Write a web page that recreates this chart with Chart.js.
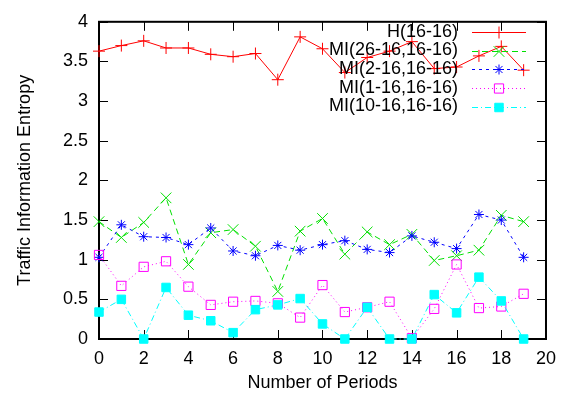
<!DOCTYPE html>
<html>
<head>
<meta charset="utf-8">
<script src="https://cdn.jsdelivr.net/npm/chart.js@4.4.0/dist/chart.umd.min.js"></script>
<style>
    html, body { margin: 0; padding: 0; background: #fff; }
</style>
</head>
<body>
<canvas id="entropyChart" width="565" height="398"></canvas>
<script>
// Data
const periods = [0, 1, 2, 3, 4, 5, 6, 7, 8, 9, 10, 11, 12, 13, 14, 15, 16, 17, 18, 19];
const hSelf   = [3.63, 3.70, 3.76, 3.67, 3.67, 3.59, 3.56, 3.60, 3.27, 3.81, 3.66, 3.36, 3.55, 3.63, 3.75, 3.41, 3.43, 3.57, 3.69, 3.39];
const mi26    = [1.48, 1.28, 1.47, 1.78, 0.94, 1.34, 1.38, 1.17, 0.60, 1.36, 1.52, 1.07, 1.35, 1.19, 1.32, 0.99, 1.05, 1.12, 1.56, 1.48];
const mi2     = [1.03, 1.44, 1.29, 1.28, 1.19, 1.40, 1.11, 1.05, 1.18, 1.12, 1.19, 1.24, 1.13, 1.09, 1.30, 1.22, 1.14, 1.57, 1.50, 1.03];
const mi1     = [1.06, 0.67, 0.91, 0.98, 0.66, 0.43, 0.47, 0.48, 0.45, 0.27, 0.68, 0.34, 0.40, 0.47, 0.01, 0.38, 0.94, 0.39, 0.41, 0.57];
const mi10    = [0.34, 0.50, 0.00, 0.65, 0.30, 0.23, 0.08, 0.37, 0.43, 0.51, 0.19, 0.00, 0.40, 0.00, 0.00, 0.56, 0.33, 0.78, 0.48, 0.00];

const seriesLabels = ['H(16-16)', 'MI(26-16,16-16)', 'MI(2-16,16-16)', 'MI(1-16,16-16)', 'MI(10-16,16-16)'];

const FONT = '"Liberation Sans", Arial, sans-serif';

function pts(values) {
    return periods.map((p, i) => ({ x: p, y: values[i] }));
}

const datasets = [
    { label: seriesLabels[0], data: pts(hSelf), borderColor: '#ff0000', borderDash: [],
      pointStyle: 'cross', pointRadius: 6, pointBorderColor: '#ff0000', pointBackgroundColor: 'transparent', order: 5 },
    { label: seriesLabels[1], data: pts(mi26), borderColor: '#00e000', borderDash: [6, 4],
      pointStyle: 'crossRot', pointRadius: 7.5, pointBorderColor: '#00e000', pointBackgroundColor: 'transparent', order: 4 },
    { label: seriesLabels[2], data: pts(mi2), borderColor: '#0000ff', borderDash: [3, 4],
      pointStyle: 'star', pointRadius: 5, pointBorderColor: '#0000ff', pointBackgroundColor: 'transparent', order: 3 },
    { label: seriesLabels[3], data: pts(mi1), borderColor: '#ff00ff', borderDash: [1, 3],
      pointStyle: 'rect', pointRadius: 6.5, pointBorderColor: '#ff00ff', pointBackgroundColor: 'transparent', order: 2 },
    { label: seriesLabels[4], data: pts(mi10), borderColor: '#00ffff', borderDash: [6, 3, 1, 3],
      pointStyle: 'rect', pointRadius: 6, pointBorderColor: '#00ffff', pointBackgroundColor: '#00ffff', order: 1 }
];
datasets.forEach(d => {
    d.borderWidth = 1;
    d.pointBorderWidth = 1;
    d.tension = 0;
    d.fill = false;
    d.clip = false;
});

// Frame with inward ticks on all four sides (gnuplot style)
const framePlugin = {
    id: 'frame',
    beforeDatasetsDraw(chart) {
        const { ctx, chartArea: a, scales } = chart;
        const tl = 9;
        ctx.save();
        ctx.strokeStyle = '#000';
        ctx.lineWidth = 1;
        scales.x.ticks.forEach(t => {
            const px = Math.round(scales.x.getPixelForValue(t.value)) + 0.5;
            ctx.beginPath();
            ctx.moveTo(px, a.bottom); ctx.lineTo(px, a.bottom - tl);
            ctx.moveTo(px, a.top); ctx.lineTo(px, a.top + tl);
            ctx.stroke();
        });
        scales.y.ticks.forEach(t => {
            const py = Math.round(scales.y.getPixelForValue(t.value)) + 0.5;
            ctx.beginPath();
            ctx.moveTo(a.left, py); ctx.lineTo(a.left + tl, py);
            ctx.moveTo(a.right, py); ctx.lineTo(a.right - tl, py);
            ctx.stroke();
        });
        ctx.lineWidth = 2;
        ctx.strokeRect(a.left, a.top, a.right - a.left, a.bottom - a.top);
        ctx.restore();
    }
};

// Legend inside the plot, text to the left of the sample
const keyPlugin = {
    id: 'key',
    afterDraw(chart) {
        const { ctx } = chart;
        const rowsY = [32, 50.5, 69, 88, 106.5];
        const textRight = 458, x0 = 472, x1 = 526;
        ctx.save();
        chart.data.datasets.forEach((ds, i) => {
            const y = Math.round(rowsY[i]) + 0.5;
            ctx.fillStyle = '#000';
            ctx.font = '18px ' + FONT;
            ctx.textAlign = 'right';
            ctx.textBaseline = 'middle';
            ctx.fillText(ds.label, textRight, rowsY[i]);
            ctx.strokeStyle = ds.borderColor;
            ctx.lineWidth = 1;
            ctx.setLineDash(ds.borderDash);
            ctx.beginPath();
            ctx.moveTo(x0, y);
            ctx.lineTo(x1, y);
            ctx.stroke();
            ctx.setLineDash([]);
            ctx.strokeStyle = ds.pointBorderColor;
            ctx.fillStyle = ds.pointBackgroundColor;
            Chart.helpers.drawPoint(ctx, {
                pointStyle: ds.pointStyle,
                radius: ds.pointRadius,
                borderWidth: 1,
                rotation: 0
            }, (x0 + x1) / 2, y);
        });
        ctx.restore();
    }
};

new Chart(document.getElementById('entropyChart'), {
    type: 'line',
    data: { datasets: datasets },
    options: {
        responsive: false,
        animation: false,
        devicePixelRatio: 1,
        layout: { padding: { top: 14, right: 17, left: 0, bottom: 0 } },
        plugins: { legend: { display: false }, tooltip: { enabled: false } },
        scales: {
            x: {
                type: 'linear', min: 0, max: 20,
                ticks: { stepSize: 2, color: '#000', font: { family: FONT, size: 18 }, padding: 9, maxRotation: 0 },
                grid: { display: false, drawTicks: false },
                border: { display: false },
                title: { display: true, text: 'Number of Periods', color: '#000',
                         font: { family: FONT, size: 18 }, padding: { top: 0, bottom: 4 } },
                afterFit: s => { s.height = 59; }
            },
            y: {
                min: 0, max: 4,
                ticks: { stepSize: 0.5, color: '#000', font: { family: FONT, size: 18 }, padding: 11,
                         callback: v => String(Math.round(v * 10) / 10) },
                grid: { display: false, drawTicks: false },
                border: { display: false },
                title: { display: true, text: 'Traffic Information Entropy', color: '#000',
                         font: { family: FONT, size: 18 }, padding: { top: 14, bottom: 0 } },
                afterFit: s => { s.width = 99; }
            }
        }
    },
    plugins: [framePlugin, keyPlugin]
});
</script>
</body>
</html>
